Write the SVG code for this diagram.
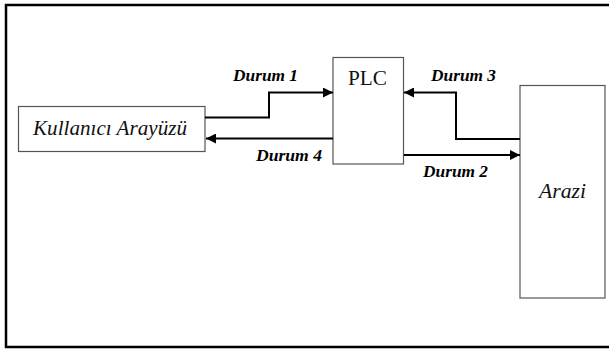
<svg xmlns="http://www.w3.org/2000/svg" width="609" height="349" viewBox="0 0 609 349">
<defs>
<style>
.box{fill:#fff;stroke:#555;stroke-width:1.2}
.conn{fill:none;stroke:#000;stroke-width:2}
text{font-family:'Liberation Serif','Times New Roman','DejaVu Serif',serif}
.lbl{font-style:italic;font-weight:bold;font-size:16px;fill:#000}
.name{font-size:21px;fill:#111}
.it{font-style:italic}
</style>
<marker id="ah" markerUnits="userSpaceOnUse" markerWidth="10" markerHeight="10" refX="10" refY="5" orient="auto">
<path d="M0,0 L10,5 L0,10 z" fill="#000"/>
</marker>
</defs>
<rect x="6" y="5" width="606" height="342" fill="#fff" stroke="#000" stroke-width="2.5"/>
<g id="kullanici">
<rect class="box" x="18.5" y="106.5" width="186.5" height="45"/>
<text class="name it" x="33" y="135" textLength="154" lengthAdjust="spacingAndGlyphs">Kullanıcı Arayüzü</text>
</g>
<g id="plc">
<rect class="box" x="333" y="57.5" width="70.5" height="106.5"/>
<text class="name" x="348" y="85" textLength="39" lengthAdjust="spacingAndGlyphs">PLC</text>
</g>
<g id="arazi">
<rect class="box" x="520" y="85.5" width="85" height="212.5"/>
<text class="name it" x="539" y="198" textLength="47" lengthAdjust="spacingAndGlyphs">Arazi</text>
</g>
<g id="connectors">
<polyline class="conn" points="205,117.5 269,117.5 269,92.5 333,92.5" marker-end="url(#ah)"/>
<line class="conn" x1="333" y1="138.5" x2="206" y2="138.5" marker-end="url(#ah)"/>
<polyline class="conn" points="520,139 456,139 456,92.5 404,92.5" marker-end="url(#ah)"/>
<line class="conn" x1="404" y1="155" x2="520" y2="155" marker-end="url(#ah)"/>
<text class="lbl" x="233" y="81" textLength="65" lengthAdjust="spacingAndGlyphs">Durum 1</text>
<text class="lbl" x="256" y="161" textLength="66" lengthAdjust="spacingAndGlyphs">Durum 4</text>
<text class="lbl" x="431" y="81" textLength="65" lengthAdjust="spacingAndGlyphs">Durum 3</text>
<text class="lbl" x="423" y="177" textLength="65" lengthAdjust="spacingAndGlyphs">Durum 2</text>
</g>
</svg>
